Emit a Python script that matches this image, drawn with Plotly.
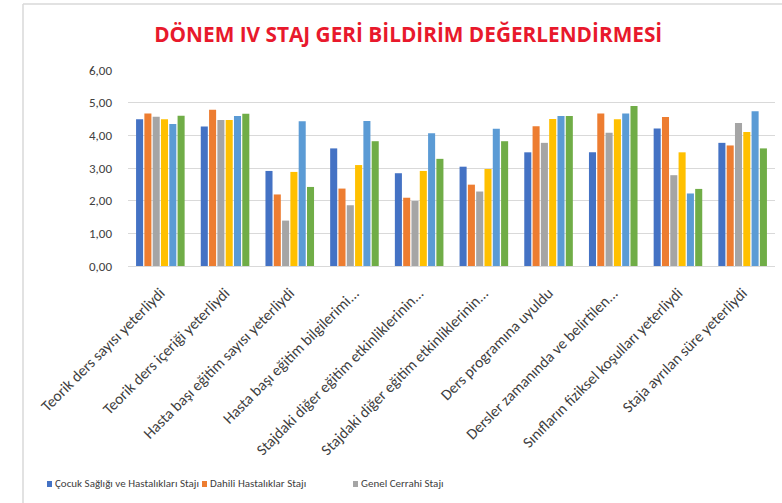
import plotly.graph_objects as go

categories = [
    "Teorik ders sayısı yeterliydi",
    "Teorik ders içeriği yeterliydi",
    "Hasta başı eğitim sayısı yeterliydi",
    "Hasta başı eğitim bilgilerimi...",
    "Stajdaki diğer eğitim etkinliklerinin...",
    "Stajdaki diğer eğitim etkinliklerinin...",
    "Ders programına uyuldu",
    "Dersler zamanında ve belirtilen...",
    "Sınıfların fiziksel koşulları yeterliydi",
    "Staja ayrılan süre yeterliydi",
]

cocuk = [4.49, 4.27, 2.91, 3.60, 2.84, 3.04, 3.48, 3.48, 4.21, 3.77]
dahili = [4.67, 4.78, 2.19, 2.37, 2.09, 2.49, 4.28, 4.67, 4.56, 3.69]
genel = [4.57, 4.47, 1.39, 1.86, 1.99, 2.28, 3.77, 4.08, 2.78, 4.38]
seri4 = [4.49, 4.47, 2.88, 3.09, 2.91, 2.97, 4.50, 4.49, 3.48, 4.10]
seri5 = [4.35, 4.59, 4.43, 4.44, 4.06, 4.20, 4.59, 4.67, 2.22, 4.74]
seri6 = [4.60, 4.66, 2.42, 3.82, 3.28, 3.82, 4.59, 4.90, 2.36, 3.60]

series_names = ["Çocuk Sağlığı ve Hastalıkları Stajı", "Dahili Hastalıklar Stajı",
                "Genel Cerrahi Stajı", "Seri 4", "Seri 5", "Seri 6"]
series_values = [cocuk, dahili, genel, seri4, seri5, seri6]
colors = ["#4472C4", "#ED7D31", "#A5A5A5", "#FFC000", "#5B9BD5", "#70AD47"]
legend_shown = [True, True, True, False, False, False]

yticks = [0, 1, 2, 3, 4, 5, 6]

xpos = list(range(len(categories)))

fig = go.Figure()
for name, vals, color in zip(series_names, series_values, colors):
    fig.add_trace(go.Bar(x=xpos, y=vals, name=name, marker_color=color,
                         marker_line_width=0, showlegend=False))

FONT = "Carlito, 'Liberation Sans Narrow', Lato, sans-serif"

W, H = 782, 503
ml, mr, mt, mb = 128, 7, 70, 237
pw = W - ml - mr
ph = H - mt - mb


def px2paperx(px):
    return (px - ml) / pw


def px2papery(py):
    return 1 - (py - mt) / ph


# manual legend (only the three visible entries of the reference)
legend_x = [47, 202, 353]
legend_y = 484
shapes = [
    dict(type="line", xref="paper", yref="paper",
         x0=px2paperx(23), x1=px2paperx(W), y0=px2papery(4), y1=px2papery(4),
         line=dict(color="#D9D9D9", width=1.5)),
    dict(type="line", xref="paper", yref="paper",
         x0=px2paperx(23), x1=px2paperx(23), y0=px2papery(4), y1=px2papery(H),
         line=dict(color="#D9D9D9", width=1.5)),
]
annotations = []
i = 0
for name, color, show in zip(series_names, colors, legend_shown):
    if not show:
        continue
    lx = legend_x[i]
    i += 1
    shapes.append(dict(type="rect", xref="paper", yref="paper",
                       x0=px2paperx(lx), x1=px2paperx(lx + 5),
                       y0=px2papery(legend_y + 3), y1=px2papery(legend_y - 3),
                       fillcolor=color, line=dict(width=0)))
    annotations.append(dict(text=name, xref="paper", yref="paper",
                            x=px2paperx(lx + 6), y=px2papery(legend_y),
                            xanchor="left", yanchor="middle", showarrow=False,
                            font=dict(family=FONT, size=11, color="#404040")))

fig.update_layout(
    width=W, height=H,
    margin=dict(l=ml, r=mr, t=mt, b=mb),
    paper_bgcolor="white", plot_bgcolor="white",
    separators=",.",
    barmode="group", bargap=0.23, bargroupgap=0.15,
    showlegend=False,
    font=dict(family=FONT, color="#595959"),
    title=dict(text="<b>DÖNEM IV STAJ GERİ BİLDİRİM DEĞERLENDİRMESİ</b>",
               x=0.522, xanchor="center", y=1 - 35 / H, yanchor="middle",
               xref="container", yref="container",
               font=dict(family="'Open Sans', sans-serif", size=20.8, color="#E8192C")),
    xaxis=dict(tickvals=xpos, ticktext=categories, tickangle=-45,
               range=[-0.5, len(categories) - 0.5], automargin=False,
               showgrid=False, zeroline=False, showline=False, ticks="",
               ticklabelstandoff=14,
               tickfont=dict(size=15.5, color="#404040")),
    yaxis=dict(range=[0, 6], tickvals=yticks, tickformat=".2f", automargin=False,
               showgrid=True, gridcolor="#D9D9D9", gridwidth=1,
               zeroline=True, zerolinecolor="#D9D9D9", zerolinewidth=1,
               showline=False, ticks="", ticklabelstandoff=15,
               tickfont=dict(size=13, color="#404040")),
    shapes=shapes,
    annotations=annotations,
)

fig.write_html("out.html", config={"displayModeBar": False},
               post_script="document.body.style.margin='0';")
